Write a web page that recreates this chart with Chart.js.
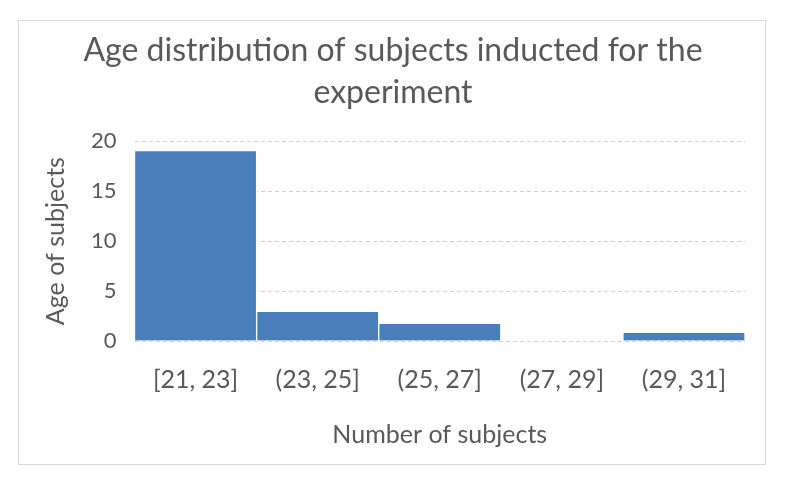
<!DOCTYPE html>
<html>
<head>
<meta charset="utf-8">
<script src="https://cdn.jsdelivr.net/npm/chart.js@4"></script>
<style>
  body { margin: 0; background: #fff; }
  #box {
    position: absolute; left: 18px; top: 20px;
    width: 748px; height: 445px;
    border: 1px solid #d9d9d9; box-sizing: border-box;
  }
</style>
</head>
<body>
<div id="box"><canvas id="ageChart"></canvas></div>
<script>
const categories = ["[21, 23]", "(23, 25]", "(25, 27]", "(27, 29]", "(29, 31]"];
const counts = [19, 2.9, 1.7, 0, 0.8];
const yTicks = [0, 5, 10, 15, 20];

const grey = '#595959';
const fontFam = 'Lato, "Open Sans", sans-serif';

new Chart(document.getElementById("ageChart").getContext("2d"), {
    type: 'bar',
    data: {
        labels: categories,
        datasets: [{
            label: 'Subjects',
            data: counts,
            backgroundColor: '#4a7ebb',
            borderColor: '#ffffff',
            borderWidth: { left: 1, right: 1, top: 0, bottom: 0 },
            barPercentage: 1,
            categoryPercentage: 1
        }]
    },
    options: {
        responsive: true,
        maintainAspectRatio: false,
        animation: false,
        layout: { padding: { left: 22, right: 20, top: 0, bottom: 14 } },
        plugins: {
            legend: { display: false },
            tooltip: { enabled: false },
            title: {
                display: true,
                text: ['Age distribution of subjects inducted for the', 'experiment'],
                color: grey,
                font: { family: fontFam, size: 32, weight: 'normal', lineHeight: 1.3 },
                padding: { top: 9, bottom: 28 }
            }
        },
        scales: {
            x: {
                grid: { display: false },
                border: { display: false },
                ticks: { color: grey, font: { family: fontFam, size: 25 }, padding: 16 },
                title: {
                    display: true, text: 'Number of subjects', color: grey,
                    font: { family: fontFam, size: 25 }, padding: { top: 9, bottom: 0 }
                }
            },
            y: {
                min: 0, max: 20,
                afterBuildTicks: axis => { axis.ticks = yTicks.map(v => ({ value: v })); },
                grid: { color: '#d0d0d0', drawTicks: false },
                border: { display: false, dash: [4, 3] },
                ticks: { color: grey, font: { family: fontFam, size: 22 }, padding: 18 },
                title: {
                    display: true, text: 'Age of subjects', color: grey,
                    font: { family: fontFam, size: 25 }, padding: { top: 0, bottom: 2 }
                }
            }
        }
    }
});
</script>
</body>
</html>
